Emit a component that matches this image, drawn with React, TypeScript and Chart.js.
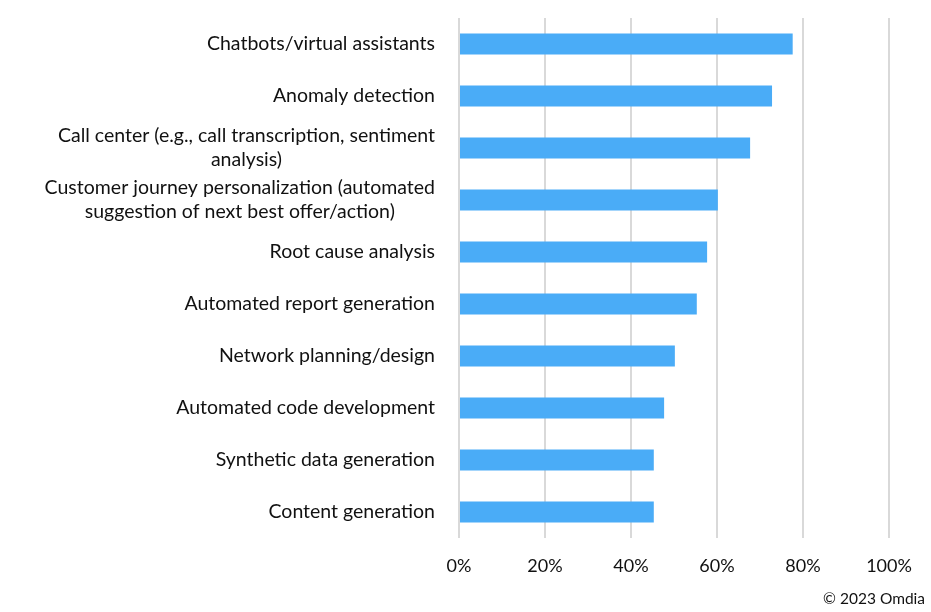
import React, { useEffect, useRef } from "react";
import { Chart, registerables } from "chart.js";

Chart.register(...registerables);

const categories: (string | string[])[] = [
  "Chatbots/virtual assistants",
  "Anomaly detection",
  ["Call center (e.g., call transcription, sentiment", "analysis)"],
  ["Customer journey personalization (automated", "suggestion of next best offer/action)"],
  "Root cause analysis",
  "Automated report generation",
  "Network planning/design",
  "Automated code development",
  "Synthetic data generation",
  "Content generation",
];

const values = [0.776, 0.728, 0.677, 0.602, 0.577, 0.553, 0.502, 0.477, 0.453, 0.453];

const xTicks = [0, 0.2, 0.4, 0.6, 0.8, 1.0];

const FONT = "Lato, 'Open Sans', sans-serif";
const LABEL_SIZE = 19.5;
const LABEL_LINE = 24;

const yLabelPlugin = {
  id: "yLabelBlocks",
  afterDraw(chart: any) {
    const scale = chart.scales.y;
    const ctx = chart.ctx;
    const right = scale.right - 24;
    ctx.save();
    ctx.font = `${LABEL_SIZE}px ${FONT}`;
    ctx.fillStyle = "#111";
    ctx.textBaseline = "middle";
    ctx.textAlign = "center";
    const labels = chart.data.labels as (string | string[])[];
    labels.forEach((lab, i) => {
      const lines = Array.isArray(lab) ? lab : [lab];
      const blockW = Math.max(...lines.map((l) => ctx.measureText(l).width));
      const cx = right - blockW / 2;
      const cy = scale.getPixelForTick(i);
      const y0 = cy - ((lines.length - 1) * LABEL_LINE) / 2;
      lines.forEach((l, j) => ctx.fillText(l, cx, y0 + j * LABEL_LINE));
    });
    ctx.restore();
  },
};

export default function App() {
  const ref = useRef<HTMLCanvasElement | null>(null);

  useEffect(() => {
    document.body.style.margin = "0";
    const ctx = ref.current!;
    const chart = new Chart(ctx, {
      type: "bar",
      data: {
        labels: categories,
        datasets: [
          {
            data: values,
            backgroundColor: "#4AACF7",
            borderWidth: 0,
            categoryPercentage: 1,
            barPercentage: 0.405,
          },
        ],
      },
      options: {
        indexAxis: "y",
        animation: false,
        responsive: false,
        maintainAspectRatio: false,
        layout: { padding: { top: 18, right: 42, left: 0, bottom: 0 } },
        plugins: {
          legend: { display: false },
          tooltip: { enabled: false },
        },
        scales: {
          x: {
            min: 0,
            max: 1,
            afterBuildTicks: (scale: any) => {
              scale.ticks = xTicks.map((v) => ({ value: v }));
            },
            ticks: {
              callback: (v: any) => Math.round(Number(v) * 100) + "%",
              color: "#111",
              font: { family: FONT, size: 18 },
              padding: 17,
            },
            grid: { color: "#d9d9d9", lineWidth: 2, drawTicks: false },
            border: { display: false },
            afterFit: (scale: any) => {
              scale.height = 74;
            },
          },
          y: {
            ticks: { display: false },
            grid: { display: false, drawTicks: false },
            border: { display: false },
            afterFit: (scale: any) => {
              scale.width = 459;
            },
          },
        },
      },
      plugins: [yLabelPlugin],
    });
    return () => chart.destroy();
  }, []);

  return (
    <div style={{ position: "relative", width: 931, height: 612, background: "#fff" }}>
      <canvas ref={ref} width={931} height={612} style={{ display: "block" }} />
      <div
        style={{
          position: "absolute",
          right: 6,
          top: 588,
          fontFamily: FONT,
          fontSize: 15.5,
          color: "#111",
          lineHeight: "20px",
        }}
      >
        © 2023 Omdia
      </div>
    </div>
  );
}
